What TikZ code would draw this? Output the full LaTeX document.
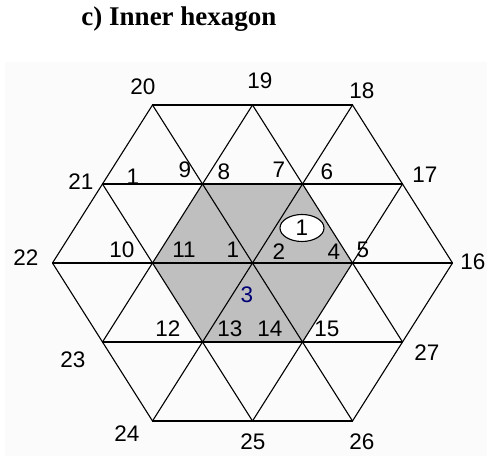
\documentclass[tikz,border=0pt]{standalone}
\usepackage{fontspec}
\setmainfont{Liberation Serif}
\setsansfont{Liberation Sans}
\usepackage{xcolor}
\usepackage{tikz}
\usetikzlibrary{calc, positioning}

\tikzset{
    num/.style={inner sep=0pt, font=\sffamily\fontsize{22.5}{22.5}\selectfont},
    grid line/.style={line width=1.1pt, line join=round}
}

\begin{document}
\begin{tikzpicture}[x=100pt, y=79pt]
    \useasboundingbox (-2.525,-2.443) rectangle (2.345,3.329);
    % Nền và tiêu đề
    \fill[black!1.5] (-2.475,-2.443) rectangle (2.345,2.544);
    \node[inner sep=0pt, font=\bfseries\fontsize{27}{27}\selectfont] (title) at (-0.735,3.089) {c) Inner hexagon};
    
    % Lục giác trong
    \fill[gray!50] (-0.5,1) -- (0.5,1) -- (1,0) -- (0.5,-1) -- (-0.5,-1) -- (-1,0) -- cycle;
    
    % Các đường ngang
    \foreach \v/\w in {2/1, 1/1.5, 0/2, -1/1.5, -2/1} {
         \draw[grid line] (-\w,\v) -- (\w,\v);
    }
    % Các đường chéo
    \foreach \a/\b in {{-2,0}/{-1,2}, {-1.5,-1}/{0,2}, {-1,-2}/{1,2}, {0,-2}/{1.5,1}, {1,-2}/{2,0}} {
         \draw[grid line] (\a) -- (\b);
    }
    \foreach \a/\b in {{-2,0}/{-1,-2}, {-1.5,1}/{0,-2}, {-1,2}/{1,-2}, {0,2}/{1.5,-1}, {1,2}/{2,0}} {
         \draw[grid line] (\a) -- (\b);
    }
    
    % Vòng elip
    \draw[line width=1.1pt, fill=white] (0.495,0.443) ellipse [x radius=22pt, y radius=13.5pt];
    \node[num] (e1) at (0.495,0.443) {1};
    
    % Nhãn các điểm
    \foreach \nm/\x/\y/\t in {n20/-1.095/2.228/20, n19/0.075/2.304/19, n18/1.095/2.177/18,
        n21/-1.715/1.025/21, n1a/-1.195/1.089/1, n9/-0.675/1.177/9, n8/-0.285/1.152/8,
        n7/0.265/1.177/7, n6/0.745/1.152/6, n17/1.725/1.114/17,
        n22/-2.265/0.063/22, n10/-1.305/0.165/10, n11/-0.685/0.165/11, n1b/-0.195/0.165/1,
        n2/0.265/0.139/2, n4/0.815/0.139/4, n5/1.105/0.165/5, n16/2.205/0.013/16,
        n12/-0.845/-0.835/12, n13/-0.225/-0.835/13, n14/0.175/-0.835/14, n15/0.745/-0.835/15,
        n23/-1.795/-1.228/23, n27/1.745/-1.139/27,
        n24/-1.255/-2.165/24, n25/0.005/-2.266/25, n26/1.095/-2.266/26} {
         \node[num] (\nm) at (\x,\y) {\t};
    }
    \node[num, text=blue!45!black] (n3) at (-0.055,-0.405) {3};
    
\end{tikzpicture}
\end{document}
